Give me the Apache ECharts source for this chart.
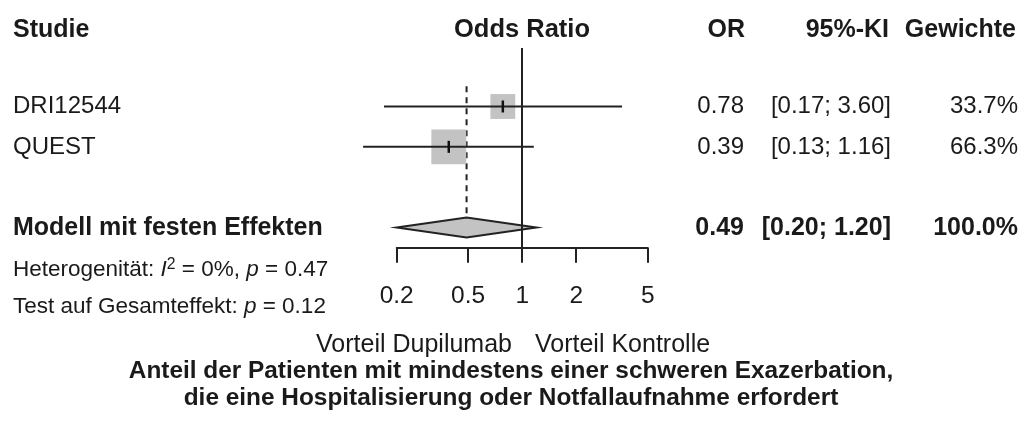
<!DOCTYPE html>
<html>
<head>
<meta charset="utf-8">
<script src="https://cdn.jsdelivr.net/npm/echarts@6/dist/echarts.min.js"></script>
<style>
html,body{margin:0;padding:0;background:#fff;}
#chart{width:1024px;height:421px;}
</style>
</head>
<body>
<div id="chart"></div>
<script>
// ---- data ----
var studies = ['DRI12544', 'QUEST'];
var studyOR = [0.78, 0.39];
var studyLower = [0.17, 0.13];
var studyUpper = [3.60, 1.16];
var studyWeight = [33.7, 66.3];
var pooledLabel = 'Modell mit festen Effekten';
var pooledOR = 0.49;
var pooledLower = 0.20;
var pooledUpper = 1.20;
var pooledWeight = 100.0;
var xTicks = [0.2, 0.5, 1, 2, 5];
var headers = ['Studie', 'Odds Ratio', 'OR', '95%-KI', 'Gewichte'];
var heterogeneity = {I2: '0%', p: '0.47'};
var overallP = '0.12';
var favourLeft = 'Vorteil Dupilumab';
var favourRight = 'Vorteil Kontrolle';
var titleLines = ['Anteil der Patienten mit mindestens einer schweren Exazerbation,',
                  'die eine Hospitalisierung oder Notfallaufnahme erfordert'];

// row positions (index on the vertical axis)
var studyRows = [1, 2];
var pooledRow = 4;

var FONT = '"Liberation Sans", Arial, Helvetica, sans-serif';
var INK = '#1a1a1a';
var GREY = '#c3c3c3';

var chart = echarts.init(document.getElementById('chart'), null, {renderer: 'canvas'});

var studyData = studies.map(function (s, i) {
  return [studyOR[i], studyRows[i], studyLower[i], studyUpper[i], studyWeight[i]];
});

function renderStudy(params, api) {
  var or = api.value(0), row = api.value(1), lo = api.value(2), hi = api.value(3), w = api.value(4);
  var c = api.coord([or, row]);
  var l = api.coord([lo, row]);
  var h = api.coord([hi, row]);
  var side = 4.28 * Math.sqrt(w);
  return {
    type: 'group',
    children: [
      {type: 'rect', shape: {x: c[0] - side / 2, y: c[1] - side / 2, width: side, height: side},
       style: {fill: GREY}},
      {type: 'line', shape: {x1: l[0], y1: l[1], x2: h[0], y2: h[1]},
       style: {stroke: '#222', lineWidth: 2}},
      {type: 'line', shape: {x1: c[0], y1: c[1] - 6, x2: c[0], y2: c[1] + 6},
       style: {stroke: '#111', lineWidth: 2.5}}
    ]
  };
}

function renderPooled(params, api) {
  var or = api.value(0), row = api.value(1), lo = api.value(2), hi = api.value(3);
  var c = api.coord([or, row]);
  var l = api.coord([lo, row]);
  var h = api.coord([hi, row]);
  var top = api.coord([or, 0.5]);
  var hh = 10;
  return {
    type: 'group',
    children: [
      {type: 'line', shape: {x1: c[0], y1: top[1], x2: c[0], y2: c[1] - hh},
       style: {stroke: '#222', lineWidth: 2, lineDash: [6, 5]}},
      {type: 'polygon', shape: {points: [[l[0], c[1]], [c[0], c[1] - hh], [h[0], c[1]], [c[0], c[1] + hh]]},
       style: {fill: GREY, stroke: '#222', lineWidth: 2}}
    ]
  };
}

function fmt2(v) { return v.toFixed(2); }

var graphics = [];
function txt(x, y, text, opt) {
  opt = opt || {};
  graphics.push({
    type: 'text', x: x, y: y,
    style: {
      text: text, x: 0, y: 0,
      fill: INK,
      font: (opt.bold ? 'bold ' : '') + (opt.size || 24) + 'px ' + FONT,
      align: opt.align || 'left',
      verticalAlign: 'middle'
    }
  });
}

// headers
txt(13, 30, headers[0], {bold: true, size: 25});
txt(522, 30, headers[1], {bold: true, size: 25.5, align: 'center'});
txt(745, 30, headers[2], {bold: true, size: 25, align: 'right'});
txt(889, 30, headers[3], {bold: true, size: 25, align: 'right'});
txt(1016, 30, headers[4], {bold: true, size: 25, align: 'right'});

// study rows
var rowY = [106.5, 147.5];
studies.forEach(function (s, i) {
  txt(13, rowY[i], s, {size: 24});
  txt(744, rowY[i], fmt2(studyOR[i]), {size: 24, align: 'right'});
  txt(891, rowY[i], '[' + fmt2(studyLower[i]) + '; ' + fmt2(studyUpper[i]) + ']', {size: 24, align: 'right'});
  txt(1018, rowY[i], studyWeight[i].toFixed(1) + '%', {size: 24, align: 'right'});
});
// pooled row
var pY = 228;
txt(13, pY, pooledLabel, {bold: true, size: 25});
txt(744, pY, fmt2(pooledOR), {bold: true, size: 25, align: 'right'});
txt(891, pY, '[' + fmt2(pooledLower) + '; ' + fmt2(pooledUpper) + ']', {bold: true, size: 25, align: 'right'});
txt(1018, pY, pooledWeight.toFixed(1) + '%', {bold: true, size: 25, align: 'right'});

// heterogeneity + overall test
var small = 22.5;
graphics.push({
  type: 'text', x: 13, y: 270,
  style: {
    text: 'Heterogenität: {it|I}{sup|2} = ' + heterogeneity.I2 + ', {it|p} = ' + heterogeneity.p,
    font: small + 'px ' + FONT, fill: INK, verticalAlign: 'middle',
    rich: {
      it: {fontStyle: 'italic', fontSize: small, fontFamily: FONT, fill: INK},
      sup: {fontSize: small * 0.7, fontFamily: FONT, fill: INK, verticalAlign: 'top', padding: [0, 0, 10, 0]}
    }
  }
});
graphics.push({
  type: 'text', x: 13, y: 307,
  style: {
    text: 'Test auf Gesamteffekt: {it|p} = ' + overallP,
    font: small + 'px ' + FONT, fill: INK, verticalAlign: 'middle',
    rich: {it: {fontStyle: 'italic', fontSize: small, fontFamily: FONT, fill: INK}}
  }
});

// favour labels and title
txt(512, 345, favourLeft, {size: 25, align: 'right'});
txt(535, 345, favourRight, {size: 25, align: 'left'});
txt(511, 371, titleLines[0], {bold: true, size: 24.4, align: 'center'});
txt(511, 398, titleLines[1], {bold: true, size: 24.4, align: 'center'});

var option = {
  animation: false,
  backgroundColor: '#fff',
  grid: {left: 396.7, right: 376.3, top: 48, bottom: 173.3, containLabel: false},
  xAxis: {
    type: 'log', logBase: 10, min: 0.2, max: 5,
    splitLine: {show: false},
    axisLine: {show: true, onZero: false, lineStyle: {color: '#222', width: 2}},
    axisTick: {show: true, customValues: xTicks, length: 15, lineStyle: {color: '#222', width: 2}},
    axisLabel: {show: true, customValues: xTicks, margin: 36,
      color: INK, fontSize: 24.5, fontFamily: FONT,
      formatter: function (v) { return String(+(+v).toPrecision(3)); }},
    minorTick: {show: false}
  },
  yAxis: {type: 'value', inverse: true, min: -0.45, max: 4.5, show: false},
  graphic: graphics,
  series: [
    {
      type: 'custom', renderItem: renderStudy, data: studyData, silent: true, z: 3,
      encode: {x: 0, y: 1},
      markLine: {
        silent: true, symbol: 'none', label: {show: false},
        lineStyle: {color: '#222', width: 2, type: 'solid'},
        data: [{xAxis: 1}]
      }
    },
    {
      type: 'custom', renderItem: renderPooled, silent: true, z: 2,
      encode: {x: 0, y: 1},
      data: [[pooledOR, pooledRow, pooledLower, pooledUpper, pooledWeight]]
    }
  ]
};
chart.setOption(option);
</script>
</body>
</html>
